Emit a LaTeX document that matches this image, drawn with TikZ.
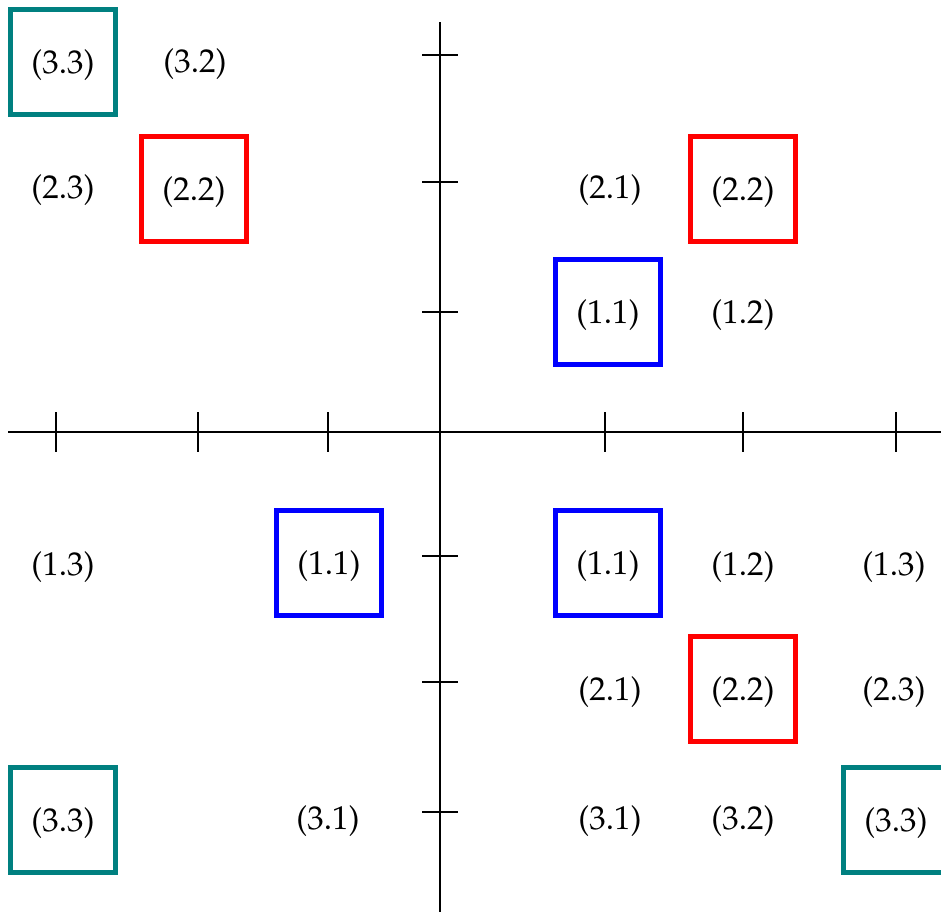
\documentclass[tikz,border=0pt]{standalone}
\usepackage[T1]{fontenc}
\usepackage{mathpazo}
\usepackage{tikz}
\usetikzlibrary{positioning}
\definecolor{boxteal}{RGB}{0, 128, 128}
\definecolor{boxred}{RGB}{255, 0, 0}
\definecolor{boxblue}{RGB}{0, 0, 255}

\begin{document}
\begin{tikzpicture}[
  x=1pt, y=-1pt,
  lbl/.style={inner sep=0pt, text height=26pt, text depth=7pt, font=\fontsize{33}{38}\selectfont},
  pbox/.style={lbl, draw, line width=5pt, minimum size=105pt, text height=28pt, text depth=5pt}
]
  \useasboundingbox (0,0) rectangle (941,914);

  % axes and ticks
  \draw[line width=1.6pt] (8,432) -- (941,432);
  \draw[line width=1.6pt] (440,22) -- (440,912);
  \draw[line width=1.6pt]
    (56,412) -- (56,452) (198,412) -- (198,452) (328,412) -- (328,452)
    (605,412) -- (605,452) (743,412) -- (743,452) (896,412) -- (896,452)
    (422,55) -- (458,55) (422,182) -- (458,182) (422,312) -- (458,312)
    (422,556) -- (458,556) (422,682) -- (458,682) (422,812) -- (458,812);

  % upper left
  \node[pbox, draw=boxteal] (ul33) at (63,62) {(3.3)};
  \node[lbl] (ul32) at (195,63) {(3.2)};
  \node[lbl] (ul23) at (63,189) {(2.3)};
  \node[pbox, draw=boxred] (ul22) at (194,189) {(2.2)};

  % upper right
  \node[lbl] (ur21) at (610,189) {(2.1)};
  \node[pbox, draw=boxred] (ur22) at (743,189) {(2.2)};
  \node[pbox, draw=boxblue] (ur11) at (608,312) {(1.1)};
  \node[lbl] (ur12) at (743,314) {(1.2)};

  % lower left
  \node[lbl] (ll13) at (63,566) {(1.3)};
  \node[pbox, draw=boxblue] (ll11) at (329,563) {(1.1)};
  \node[pbox, draw=boxteal] (ll33) at (63,820) {(3.3)};
  \node[lbl] (ll31) at (328,820) {(3.1)};

  % lower right
  \node[pbox, draw=boxblue] (lr11) at (608,563) {(1.1)};
  \node[lbl] (lr12) at (743,566) {(1.2)};
  \node[lbl] (lr13) at (894,566) {(1.3)};
  \node[lbl] (lr21) at (610,691) {(2.1)};
  \node[pbox, draw=boxred] (lr22) at (743,689) {(2.2)};
  \node[lbl] (lr23) at (894,691) {(2.3)};
  \node[lbl] (lr31) at (610,820) {(3.1)};
  \node[lbl] (lr32) at (743,820) {(3.2)};
  \node[pbox, draw=boxteal] (lr33) at (896,820) {(3.3)};
\end{tikzpicture}
\end{document}
